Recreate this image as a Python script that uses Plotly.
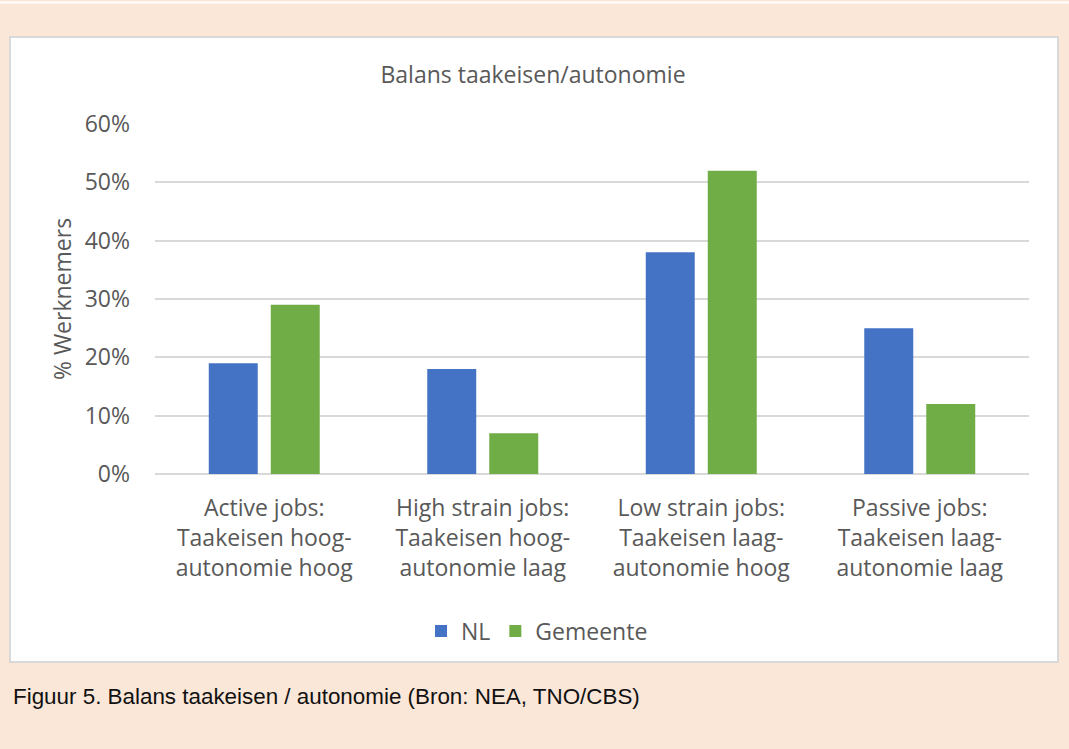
import plotly.graph_objects as go

categories = [
    "Active jobs:<br>Taakeisen hoog-<br>autonomie hoog",
    "High strain jobs:<br>Taakeisen hoog-<br>autonomie laag",
    "Low strain jobs:<br>Taakeisen laag-<br>autonomie hoog",
    "Passive jobs:<br>Taakeisen laag-<br>autonomie laag",
]
nl_values = [0.19, 0.18, 0.38, 0.25]
gemeente_values = [0.29, 0.07, 0.52, 0.12]
y_ticks = [0, 0.1, 0.2, 0.3, 0.4, 0.5, 0.6]

W, H = 1069, 749
PL, PR, PT, PB = 155, 1029, 124, 474  # plot area in pixels
pw, ph = PR - PL, PB - PT

def px_x(x):
    return (x - PL) / pw

def px_y(y):
    return (PB - y) / ph

CHART_FONT = "Open Sans"
GRAY = "#595959"
FS = 23

fig = go.Figure()
fig.add_trace(go.Bar(name="NL", x=categories, y=nl_values,
                     marker=dict(color="#4472C4", line=dict(width=0))))
fig.add_trace(go.Bar(name="Gemeente", x=categories, y=gemeente_values,
                     marker=dict(color="#70AD47", line=dict(width=0))))

fig.update_layout(
    width=W, height=H,
    margin=dict(l=PL, r=W - PR, t=PT, b=H - PB, autoexpand=False),
    paper_bgcolor="#FBE7D8",
    plot_bgcolor="rgba(0,0,0,0)",
    barmode="group",
    bargap=0.4325,
    bargroupgap=0.21,
    font=dict(family=CHART_FONT, color=GRAY, size=FS),
    showlegend=True,
    legend=dict(orientation="h", x=px_x(537), xanchor="center",
                y=px_y(631), yanchor="middle",
                font=dict(size=FS, color=GRAY), bgcolor="rgba(0,0,0,0)",
                itemwidth=30, tracegroupgap=0),
    title=dict(text="Balans taakeisen/autonomie", x=px_x(533), xref="paper",
               xanchor="center", y=1 - 75 / H, yanchor="middle",
               font=dict(size=FS, color=GRAY)),
    xaxis=dict(showgrid=False, showline=False, ticks="",
               tickfont=dict(size=FS, color=GRAY), automargin=False,
               ticklabelstandoff=18),
    yaxis=dict(range=[0, 0.6], tickvals=y_ticks, tickformat=".0%",
               showgrid=True, gridcolor="#D9D9D9", gridwidth=1.5,
               zeroline=True, zerolinecolor="#D9D9D9", zerolinewidth=1.5,
               showline=False, ticks="", automargin=False,
               tickfont=dict(size=FS, color=GRAY), ticklabelstandoff=24,
               title=dict(text="% Werknemers", standoff=6,
                          font=dict(size=FS, color=GRAY))),
    shapes=[
        dict(type="rect", xref="paper", yref="paper", layer="below",
             x0=px_x(10), x1=px_x(1058), y0=px_y(662), y1=px_y(37),
             fillcolor="white", line=dict(color="#D9D9D9", width=2)),
        dict(type="line", xref="paper", yref="paper", layer="below",
             x0=px_x(0), x1=px_x(W), y0=px_y(2.5), y1=px_y(2.5),
             line=dict(color="white", width=2)),
    ],
    annotations=[
        dict(text="Figuur 5. Balans taakeisen / autonomie (Bron: NEA, TNO/CBS)",
             xref="paper", yref="paper", x=px_x(11), y=px_y(696),
             xanchor="left", yanchor="middle", showarrow=False,
             font=dict(family="Liberation Sans, Arial", size=22.4, color="#111111")),
    ],
)

fig.write_html("out.html",
               config={"displayModeBar": False},
               post_script="document.body.style.margin='0';document.body.style.background='#FBE7D8';")
